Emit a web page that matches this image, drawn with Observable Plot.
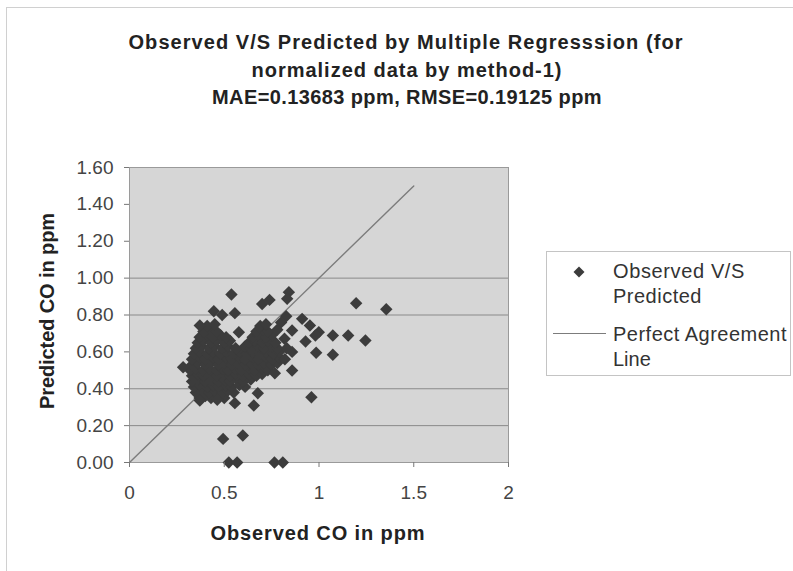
<!DOCTYPE html>
<html>
<head>
<meta charset="utf-8">
<script src="https://cdn.jsdelivr.net/npm/d3@7"></script>
<script src="https://cdn.jsdelivr.net/npm/@observablehq/plot@0.6"></script>
<style>
  html, body { margin:0; padding:0; background:#fff; }
  #wrap { position:relative; width:793px; height:571px; background:#fff; overflow:hidden; font-family:"Liberation Sans", Arial, sans-serif; }
  #chart { position:absolute; left:0; top:0; }
  .abs { position:absolute; white-space:nowrap; }
  .t { font-weight:bold; font-size:20px; color:#222; line-height:24px; }
  .lg { font-size:20px; color:#333; line-height:24px; }
</style>
</head>
<body>
<div id="wrap">
  <div id="chart"></div>
</div>
<script>
// ---------- data ----------
const titleLines = [
  "Observed V/S Predicted by Multiple Regresssion (for",
  "normalized data by method-1)",
  "MAE=0.13683 ppm, RMSE=0.19125 ppm"
];
const xLabel = "Observed CO in ppm";
const yLabel = "Predicted CO in ppm";
const legendSeries = ["Observed V/S", "Predicted"];
const legendLine = ["Perfect Agreement", "Line"];
const xTicks = [0, 0.5, 1, 1.5, 2];
const yTicks = [0, 0.2, 0.4, 0.6, 0.8, 1.0, 1.2, 1.4, 1.6];
const gridY = [0.2, 0.4, 0.8, 1.0];
const agreeX = [0, 1.5];
const agreeY = [0, 1.5];

// observed, predicted pairs
const clusterPoints = [
  [0.37,0.35],[0.40,0.36],[0.43,0.35],[0.47,0.36],[0.50,0.35],
  [0.35,0.38],[0.38,0.39],[0.42,0.38],[0.45,0.39],[0.49,0.38],[0.52,0.39],[0.55,0.38],
  [0.34,0.41],[0.37,0.42],[0.41,0.41],[0.44,0.42],[0.47,0.41],[0.51,0.42],[0.54,0.41],[0.58,0.42],[0.61,0.41],
  [0.33,0.44],[0.36,0.45],[0.40,0.44],[0.43,0.45],[0.47,0.44],[0.50,0.45],[0.53,0.44],[0.57,0.45],[0.60,0.44],[0.64,0.45],
  [0.33,0.47],[0.36,0.48],[0.39,0.47],[0.43,0.48],[0.46,0.47],[0.50,0.48],[0.53,0.47],[0.56,0.48],[0.60,0.47],[0.63,0.48],[0.67,0.47],[0.70,0.48],
  [0.32,0.50],[0.35,0.51],[0.39,0.50],[0.42,0.51],[0.46,0.50],[0.49,0.51],[0.52,0.50],[0.56,0.51],[0.59,0.50],[0.63,0.51],[0.66,0.50],[0.70,0.51],[0.73,0.50],
  [0.33,0.53],[0.36,0.54],[0.40,0.53],[0.43,0.54],[0.47,0.53],[0.50,0.54],[0.54,0.53],[0.57,0.54],[0.61,0.53],[0.64,0.54],[0.68,0.53],[0.71,0.54],[0.75,0.53],[0.78,0.54],
  [0.33,0.56],[0.37,0.57],[0.40,0.56],[0.44,0.57],[0.47,0.56],[0.51,0.57],[0.54,0.56],[0.58,0.57],[0.61,0.56],[0.65,0.57],[0.68,0.56],[0.72,0.57],[0.75,0.56],[0.79,0.57],[0.82,0.56],
  [0.34,0.59],[0.37,0.60],[0.41,0.59],[0.44,0.60],[0.48,0.59],[0.51,0.60],[0.55,0.59],[0.58,0.60],[0.62,0.59],[0.65,0.60],[0.69,0.59],[0.72,0.60],[0.76,0.59],[0.79,0.60],
  [0.35,0.62],[0.38,0.63],[0.42,0.62],[0.45,0.63],[0.49,0.62],[0.52,0.63],[0.56,0.62],[0.61,0.63],[0.64,0.62],[0.68,0.63],[0.71,0.62],[0.75,0.63],[0.78,0.62],
  [0.36,0.65],[0.39,0.66],[0.43,0.65],[0.46,0.66],[0.50,0.65],[0.53,0.66],[0.63,0.65],[0.66,0.66],[0.70,0.65],[0.73,0.66],[0.77,0.65],
  [0.37,0.68],[0.41,0.69],[0.44,0.68],[0.48,0.69],[0.51,0.68],[0.65,0.68],[0.68,0.69],[0.72,0.68],[0.75,0.69],
  [0.39,0.71],[0.43,0.72],[0.46,0.71],[0.67,0.71],[0.70,0.72],[0.73,0.71],
  [0.41,0.74],[0.45,0.75],[0.69,0.74],[0.72,0.75]
];
const scatteredPoints = [
  [0.538,0.911],[0.841,0.924],[0.832,0.888],[1.196,0.864],[1.355,0.831],[0.700,0.860],[0.739,0.882],
  [0.445,0.820],[0.489,0.800],[0.556,0.810],[0.371,0.743],[0.827,0.793],[0.911,0.779],[0.952,0.743],
  [0.999,0.707],[0.981,0.689],[1.073,0.689],[1.154,0.689],[1.245,0.662],[0.929,0.656],[0.858,0.716],
  [0.818,0.671],[0.985,0.595],[1.073,0.584],[0.858,0.499],[0.767,0.484],[0.960,0.354],[0.283,0.517],
  [0.556,0.322],[0.656,0.309],[0.677,0.376],[0.371,0.336],[0.463,0.340],[0.494,0.128],[0.598,0.146],
  [0.524,0.000],[0.568,0.000],[0.765,0.000],[0.809,0.000],[0.577,0.706],[0.858,0.600],[0.830,0.620],
  [0.800,0.760],[0.780,0.720]
];

// ---------- build ----------
const pts = clusterPoints.concat(scatteredPoints).map(([o,p]) => ({obs:o, pred:p}));
const agree = agreeX.map((x,i) => ({x, y:agreeY[i]}));

const chart = Plot.plot({
  width: 793, height: 571,
  marginLeft: 129, marginRight: 285, marginTop: 167, marginBottom: 109,
  style: { background:"transparent", fontFamily:"'Liberation Sans', Arial, sans-serif", fontSize:"19px", color:"#444" },
  x: { domain:[0,2] },
  y: { domain:[0,1.6] },
  marks: [
    Plot.frame({ fill:"#d6d6d6", stroke:"#9a9a9a" }),
    Plot.ruleY(gridY, { stroke:"#8a8a8a", strokeWidth:1 }),
    Plot.line(agree, { x:"x", y:"y", stroke:"#7c7c7c", strokeWidth:1.4 }),
    Plot.dot(pts, { x:"obs", y:"pred", symbol:"diamond2", r:5.6, fill:"#3c3c3c", stroke:"none" }),
    Plot.axisX({ ticks:xTicks, tickFormat:d => String(d), tickSize:5, tickPadding:18, label:null, stroke:"#777", fill:"#444" }),
    Plot.axisY({ ticks:yTicks, tickFormat:d => d.toFixed(2), tickSize:5, tickPadding:11, label:null, stroke:"#777", fill:"#444" })
  ]
});
document.getElementById("chart").appendChild(chart);

const wrap = document.getElementById("wrap");
function addText(txt, cls, cx, cy, target, anchor) {
  const d = document.createElement("div");
  d.className = "abs " + cls;
  const s = document.createElement("span");
  s.textContent = txt;
  d.appendChild(s);
  wrap.appendChild(d);
  if (target) {
    const w = s.getBoundingClientRect().width;
    const ls = (target - w) / txt.length;
    s.style.letterSpacing = ls + "px";
  }
  const r = s.getBoundingClientRect();
  const h = r.height;
  const left = anchor === "start" ? cx : cx - r.width / 2;
  d.style.left = left + "px";
  d.style.top = (cy - h / 2) + "px";
  return d;
}

// outer chart border (top and left visible)
const bt = document.createElement("div");
bt.style.cssText = "position:absolute;left:6px;top:7px;width:787px;height:1px;background:#d0d0d0";
wrap.appendChild(bt);
const bl = document.createElement("div");
bl.style.cssText = "position:absolute;left:6px;top:7px;width:1px;height:564px;background:#d0d0d0";
wrap.appendChild(bl);

// title
addText(titleLines[0], "t", 406, 41, 555);
addText(titleLines[1], "t", 407, 69, 311);
addText(titleLines[2], "t", 407, 96, 390);

// axis titles
addText(xLabel, "t", 318, 532, 215);
const yl = addText(yLabel, "t", 47, 310, 196);
yl.style.transformOrigin = "50% 50%";
yl.style.transform = "rotate(-90deg)";

// legend
const box = document.createElement("div");
box.style.cssText = "position:absolute;left:546px;top:251px;width:245px;height:125px;border:1px solid #c4c4c4;background:#fff;box-sizing:border-box";
wrap.appendChild(box);
const dia = document.createElementNS("http://www.w3.org/2000/svg", "svg");
dia.setAttribute("width", "16"); dia.setAttribute("height", "16");
dia.style.cssText = "position:absolute;left:571px;top:264px";
dia.innerHTML = '<path d="M8,2.5L13.5,8L8,13.5L2.5,8Z" fill="#3c3c3c"/>';
wrap.appendChild(dia);
const ln = document.createElement("div");
ln.style.cssText = "position:absolute;left:553px;top:333px;width:53px;height:1px;background:#7c7c7c";
wrap.appendChild(ln);
addText(legendSeries[0], "lg", 613, 270, 132, "start");
addText(legendSeries[1], "lg", 613, 295, 89, "start");
addText(legendLine[0], "lg", 613, 333, 174, "start");
addText(legendLine[1], "lg", 613, 358, 0, "start");
</script>
</body>
</html>
